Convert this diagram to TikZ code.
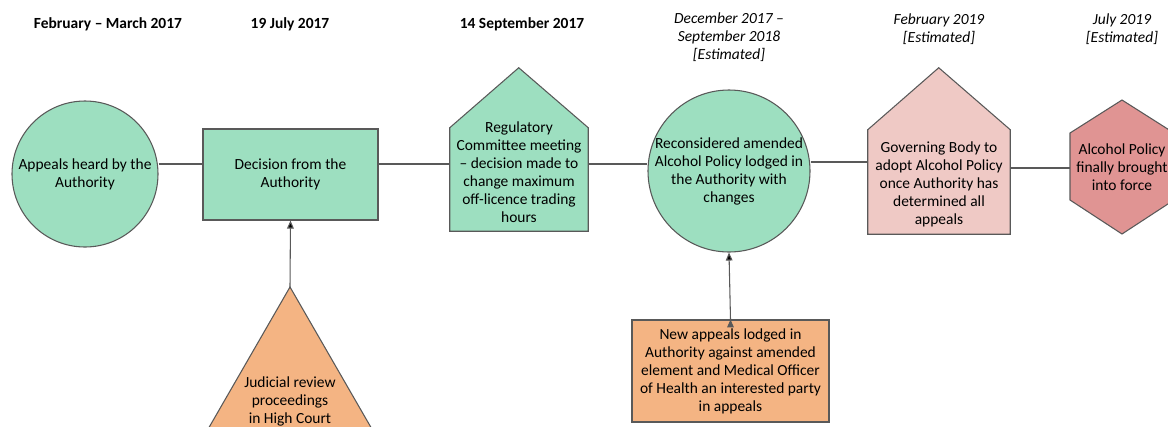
\documentclass[tikz,border=0pt]{standalone}
\usetikzlibrary{arrows.meta}
\usepackage{xcolor}
\usepackage{fontspec}
\setmainfont{Carlito}

\definecolor{mint}{RGB}{157,223,192}
\definecolor{rose}{RGB}{239,201,197}
\definecolor{brick}{RGB}{224,148,147}
\definecolor{peach}{RGB}{244,180,131}
\definecolor{rim}{RGB}{89,89,89}

\begin{document}
\begin{tikzpicture}[x=0.75pt,y=-0.75pt]
 \tikzstyle{every node}=[font=\fontsize{11.6}{13.5}\selectfont,
                       align=center, inner sep=0pt]
 \tikzstyle{outline}=[draw=rim, line width=0.8pt]
 \tikzstyle{link}=[draw=rim, line width=0.8pt]
 \tikzstyle{date}=[font=\fontsize{11.6}{13.5}\selectfont\bfseries]
 \tikzstyle{guess}=[font=\fontsize{11.6}{13.5}\selectfont\itshape]

        \useasboundingbox (0,0) rectangle (1168,426);
        \clip (0,0) rectangle (1168,426);

        % dates along the top
        \node[date] (d1) at (108,24) {February -- March 2017};
        \node[date] (d2) at (290,24) {19 July 2017};
        \node[date] (d3) at (522,24) {14 September 2017};
        \node[guess] (d4) at (729,37) {December 2017 --\\September 2018\\{[Estimated]}};
        \node[guess] (d5) at (939,29) {February 2019\\{[Estimated]}};
        \node[guess] (d6) at (1122,29) {July 2019\\{[Estimated]}};

        % events
        \node[circle, outline, fill=mint, minimum size=109.5pt] (appeal) at (85,174)
            {Appeals heard by the\\Authority};
        \node[rectangle, outline, fill=mint, minimum width=131.25pt,
              minimum height=68.25pt] (decision) at (290.5,174.5)
            {Decision from the\\Authority};

        \node[minimum width=103.5pt, minimum height=77.25pt] (meeting) at (519,179.5) {};
        \filldraw[outline, fill=mint] (meeting.south west) -- (meeting.north west)
            -- ++(69,-60) -- (meeting.north east) -- (meeting.south east) -- cycle;
        \node (meetingtxt) at (519,172) {Regulatory\\Committee meeting\\-- decision made to\\change maximum\\off-licence trading\\hours};

        \node[circle, outline, fill=mint, minimum size=121.5pt] (lodged) at (729,171) {};
        \node (lodgedtxt) at (lodged) {Reconsidered amended\\Alcohol Policy lodged in\\the Authority with\\changes};

        \node[minimum width=106.5pt, minimum height=78pt] (adopt) at (939,182) {};
        \filldraw[outline, fill=rose] (adopt.south west) -- (adopt.north west)
            -- ++(71,-62) -- (adopt.north east) -- (adopt.south east) -- cycle;
        \node (adopttxt) at (939,184) {Governing Body to\\adopt Alcohol Policy\\once Authority has\\determined all\\appeals};

        \filldraw[outline, fill=brick] (1122,100) -- (1070,133) -- (1070,200)
            -- (1122,234) -- (1174,200) -- (1174,133) -- cycle;
        \node[minimum width=78pt, minimum height=100.5pt] (force) at (1122,167)
            {Alcohol Policy\\finally brought\\into force};

        % side inputs
        \filldraw[outline, fill=peach] (290,287) -- (117,587) -- (463,587) -- cycle;
        \coordinate (tip) at (290,287);
        \node (review) at (290,401) {Judicial review\\proceedings\\in High Court};

        \node[rectangle, outline, fill=peach, minimum width=147.75pt,
              minimum height=76.5pt] (newappeal) at (730.5,371)
            {New appeals lodged in\\Authority against amended\\element and Medical Officer\\of Health an interested party\\in appeals};

        \path[link]
    (appeal.east |- 0,164) edge (decision.west |- 0,164)
    (decision.east |- 0,164) edge (meeting.west |- 0,164)
    (meeting.east |- 0,164) edge (lodged.west |- 0,164)
    (lodged.east |- 0,162) edge (adopt.west |- 0,162)
    (adopt.east |- 0,168) edge (force.west |- 0,168);

        \path[link, -{Triangle[length=6pt, width=5pt]}]
    (tip) edge (decision.south)
    (newappeal.north) edge (lodged.south);

\end{tikzpicture}
\end{document}
